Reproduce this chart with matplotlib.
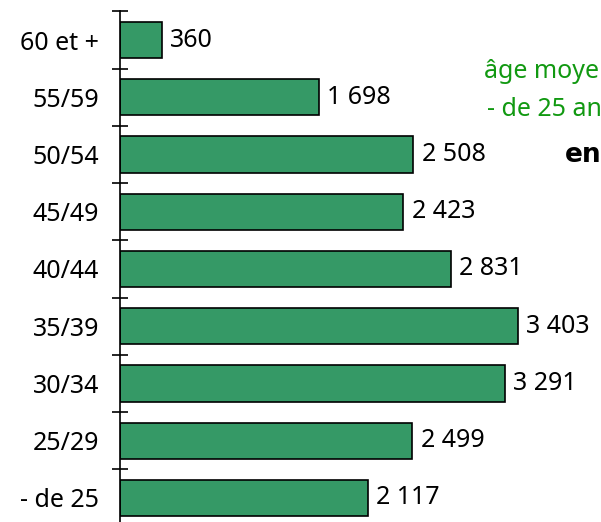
import matplotlib.pyplot as plt
import numpy as np

plt.rcParams['font.family'] = ['Noto Sans', 'DejaVu Sans']

categories = ['- de 25', '25/29', '30/34', '35/39', '40/44', '45/49', '50/54', '55/59', '60 et +']
values = [2117, 2499, 3291, 3403, 2831, 2423, 2508, 1698, 360]
value_labels = ['2 117', '2 499', '3 291', '3 403', '2 831', '2 423', '2 508', '1 698', '360']

fig = plt.figure(figsize=(6.01, 5.22), dpi=100)
ax = fig.add_axes([120 / 601, -0.0088, 1 - 120 / 601, 0.987])

y = np.arange(len(categories))
ax.barh(y, values, height=0.63, color='#359966', edgecolor='black', linewidth=1.2)
for yi, v, lab in zip(y, values, value_labels):
    ax.text(v + 70, yi, lab, va='center', ha='left', fontsize=18)

ax.set_xlim(0, 4112)
ax.set_ylim(-0.5, len(categories) - 0.5)
ax.set_yticks(y)
ax.set_yticklabels(categories, fontsize=18)
ax.set_yticks(np.arange(-0.5, len(categories)), minor=True)
ax.tick_params(axis='y', which='major', length=0, pad=15)
ax.tick_params(axis='y', which='minor', direction='inout', length=12, width=1.2)
ax.set_xticks([])
for s in ['top', 'right', 'bottom']:
    ax.spines[s].set_visible(False)
ax.spines['left'].set_linewidth(1.2)

# side notes, cut by the right edge as in the original slide
fig.text(484 / 601, 1 - 72 / 522, 'âge moyen', color='#119911', fontsize=18, va='center')
fig.text(487 / 601, 1 - 110 / 522, '- de 25 ans', color='#119911', fontsize=18, va='center')
fig.text(565 / 601, 1 - 155 / 522, 'en', color='black', fontsize=19, fontweight='bold',
         family='DejaVu Sans', va='center')

fig.savefig('out.png', dpi=100)
